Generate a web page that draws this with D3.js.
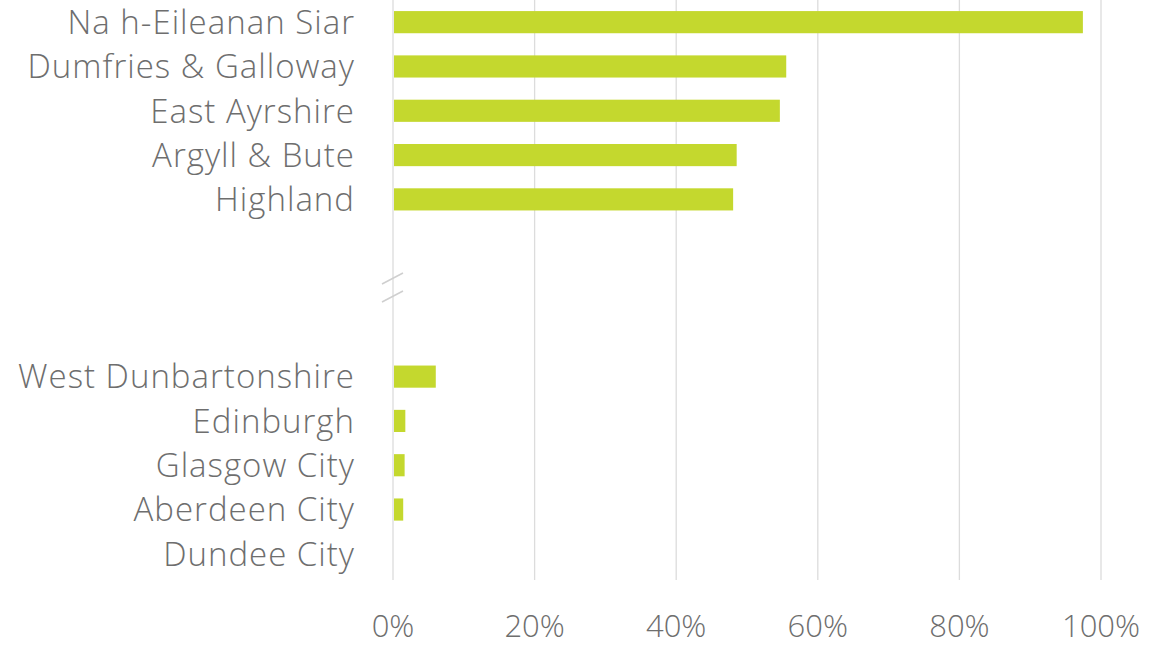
<!DOCTYPE html>
<html lang="en">
<head>
<meta charset="UTF-8">
<title>Share by council area</title>
<script src="https://d3js.org/d3.v7.min.js"></script>
<style>
  body { margin: 0; background: #fff; }
  text { font-family: "Open Sans", Lato, sans-serif; font-weight: 300; fill: #6e6e6e; }
</style>
</head>
<body>
<script>
// null rows are the gap where the axis is broken
var categories = ["Na h-Eileanan Siar", "Dumfries & Galloway", "East Ayrshire", "Argyll & Bute", "Highland",
                  null, null, null,
                  "West Dunbartonshire", "Edinburgh", "Glasgow City", "Aberdeen City", "Dundee City"];
var values = [0.973, 0.554, 0.545, 0.484, 0.479,
              null, null, null,
              0.059, 0.016, 0.015, 0.013, 0];
var ticks = [0, 0.2, 0.4, 0.6, 0.8, 1.0];

var width = 1149, height = 647;

var svg = d3.select("body").append("svg")
    .attr("width", width)
    .attr("height", height);

var x = d3.scaleLinear().domain([0, 1]).range([393, 1101]);
var y = d3.scaleBand()
    .domain(d3.range(categories.length))
    .range([0, 576])
    .paddingInner(0.5)
    .paddingOuter(0.25);

// gridlines
svg.append("g")
    .selectAll("line")
    .data(ticks)
    .enter()
    .append("line")
    .attr("x1", d => x(d))
    .attr("x2", d => x(d))
    .attr("y1", 0)
    .attr("y2", 580)
    .style("stroke", "#dcdcdc")
    .style("stroke-width", 1.3);

// bars
var rows = d3.range(categories.length).filter(i => categories[i] !== null);

svg.append("g")
    .selectAll("rect")
    .data(rows)
    .enter()
    .append("rect")
    .attr("x", x(0) + 1)
    .attr("y", i => y(i))
    .attr("width", i => Math.max(0, x(values[i]) - x(0)))
    .attr("height", y.bandwidth())
    .style("fill", "#c4d82e");

// category labels
svg.append("g")
    .selectAll("text")
    .data(rows)
    .enter()
    .append("text")
    .attr("x", 355)
    .attr("y", i => y(i) + y.bandwidth() / 2)
    .attr("dy", "0.36em")
    .attr("text-anchor", "end")
    .style("font-size", "33px")
    .style("letter-spacing", "1px")
    .text(i => categories[i]);

// x tick labels
svg.append("g")
    .selectAll("text")
    .data(ticks)
    .enter()
    .append("text")
    .attr("x", d => x(d))
    .attr("y", 626)
    .attr("dy", "0.36em")
    .attr("text-anchor", "middle")
    .style("font-size", "31px")
    .text(d3.format(".0%"));

// axis break marks in the middle empty row
var by = y(6) + y.bandwidth() / 2;
[-9, 9].forEach(function (off) {
    svg.append("line")
        .attr("x1", x(0) - 11)
        .attr("y1", by + off + 5)
        .attr("x2", x(0) + 10)
        .attr("y2", by + off - 6)
        .style("stroke", "#cfcfcf")
        .style("stroke-width", 1.5);
});
</script>
</body>
</html>
